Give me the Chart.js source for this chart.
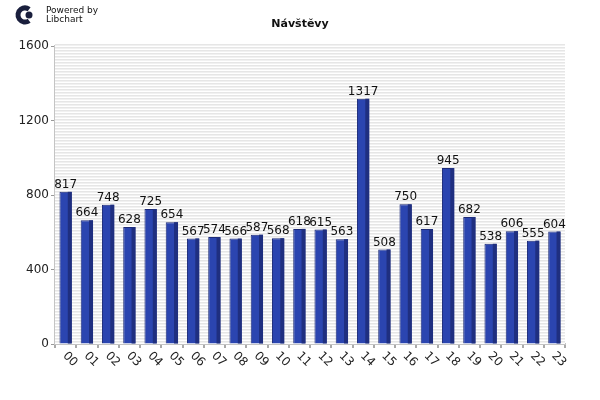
<!DOCTYPE html>
<html>
<head>
<meta charset="utf-8">
<script src="https://cdn.jsdelivr.net/npm/chart.js@4.4.0/dist/chart.umd.min.js"></script>
<style>
  html, body { margin: 0; padding: 0; background: #fff; }
  #wrap { width: 600px; height: 400px; }
</style>
</head>
<body>
<div id="wrap"><canvas id="visits" width="600" height="400"></canvas></div>
<script>
const hours = ["00", "01", "02", "03", "04", "05", "06", "07", "08", "09", "10", "11",
  "12", "13", "14", "15", "16", "17", "18", "19", "20", "21", "22", "23"];
const visits = [817, 664, 748, 628, 725, 654, 567, 574, 566, 587, 568, 618,
  615, 563, 1317, 508, 750, 617, 945, 682, 538, 606, 555, 604];
const yTicks = [0, 400, 800, 1200, 1600];
const chartTitle = "Návštěvy";

const FONT = "'DejaVu Sans', sans-serif";

// striped plot background like libchart
const stripes = {
  id: "stripes",
  beforeDatasetsDraw(chart) {
    const { ctx, chartArea: a } = chart;
    ctx.save();
    ctx.fillStyle = "#ffffff";
    ctx.fillRect(a.left, a.top - 2, a.right - a.left, a.bottom - a.top + 2);
    ctx.fillStyle = "#e6e6e6";
    for (let y = a.top - 2; y < a.bottom; y += 3) {
      ctx.fillRect(a.left, y, a.right - a.left, 1);
    }
    ctx.fillStyle = "#f1f1f1";
    for (let y = a.top - 1; y < a.bottom; y += 3) {
      ctx.fillRect(a.left, y, a.right - a.left, 1);
    }
    ctx.restore();
  }
};

// darker side of each bar, value on top, rotated hour labels, title, logo
const decorations = {
  id: "decorations",
  afterDatasetsDraw(chart) {
    const { ctx } = chart;
    const meta = chart.getDatasetMeta(0);
    ctx.save();
    meta.data.forEach((bar, i) => {
      const right = bar.x + bar.width / 2;
      ctx.fillStyle = "#1f2f80";
      ctx.fillRect(right - 4, bar.y, 4, bar.base - bar.y);
      ctx.fillStyle = "#111";
      ctx.font = "12px " + FONT;
      ctx.textAlign = "center";
      ctx.textBaseline = "bottom";
      ctx.fillText(String(visits[i]), bar.x, bar.y - 1);
    });
    ctx.restore();
  },
  afterDraw(chart) {
    const { ctx, scales } = chart;
    const a = chart.chartArea;
    ctx.save();
    ctx.fillStyle = "#222";
    ctx.font = "12px " + FONT;
    ctx.textAlign = "left";
    ctx.textBaseline = "middle";
    hours.forEach((h, i) => {
      const x = scales.x.getPixelForValue(i);
      ctx.save();
      ctx.translate(x - 1, a.bottom + 10);
      ctx.rotate(Math.PI / 4);
      ctx.fillText(h, 0, 0);
      ctx.restore();
    });

    ctx.font = "bold 11px " + FONT;
    ctx.textAlign = "center";
    ctx.fillStyle = "#111";
    ctx.fillText(chartTitle, 300, 24);

    // libchart logo
    ctx.fillStyle = "#1a1f3d";
    ctx.beginPath();
    ctx.arc(25, 15, 9.5, Math.PI * 0.3, Math.PI * 1.7, false);
    ctx.arc(25, 15, 4.5, Math.PI * 1.7, Math.PI * 0.3, true);
    ctx.closePath();
    ctx.fill();
    ctx.beginPath();
    ctx.arc(29, 15, 3.5, 0, Math.PI * 2);
    ctx.fill();
    ctx.font = "9px " + FONT;
    ctx.textAlign = "left";
    ctx.fillStyle = "#111";
    ctx.fillText("Powered by", 46, 11);
    ctx.fillText("Libchart", 46, 20);
    ctx.restore();
  }
};

new Chart(document.getElementById("visits"), {
  type: "bar",
  data: {
    labels: hours,
    datasets: [{
      data: visits,
      backgroundColor: "#2b45b0",
      borderColor: "#1c2a78",
      borderWidth: 1,
      categoryPercentage: 1,
      barPercentage: 0.58
    }]
  },
  options: {
    responsive: false,
    animation: false,
    layout: { padding: { top: 46, right: 35, left: 0, bottom: 0 } },
    plugins: {
      legend: { display: false },
      title: { display: false },
      tooltip: { enabled: false }
    },
    scales: {
      x: {
        ticks: { display: false },
        grid: { drawOnChartArea: false, offset: true, tickLength: 4, color: "#aaaaaa", lineWidth: 2 },
        border: { color: "#c4c4c4", width: 2 },
        afterFit(scale) { scale.height = 56; }
      },
      y: {
        min: 0,
        max: 1600,
        afterBuildTicks(scale) { scale.ticks = yTicks.map(v => ({ value: v })); },
        ticks: {
          color: "#222",
          font: { family: FONT, size: 12 },
          padding: 2,
          callback: value => String(value)
        },
        grid: { drawOnChartArea: false, tickLength: 4, color: "#999999" },
        border: { color: "#c4c4c4", width: 3 },
        afterFit(scale) { scale.width = 55; }
      }
    }
  },
  plugins: [stripes, decorations]
});
</script>
</body>
</html>
